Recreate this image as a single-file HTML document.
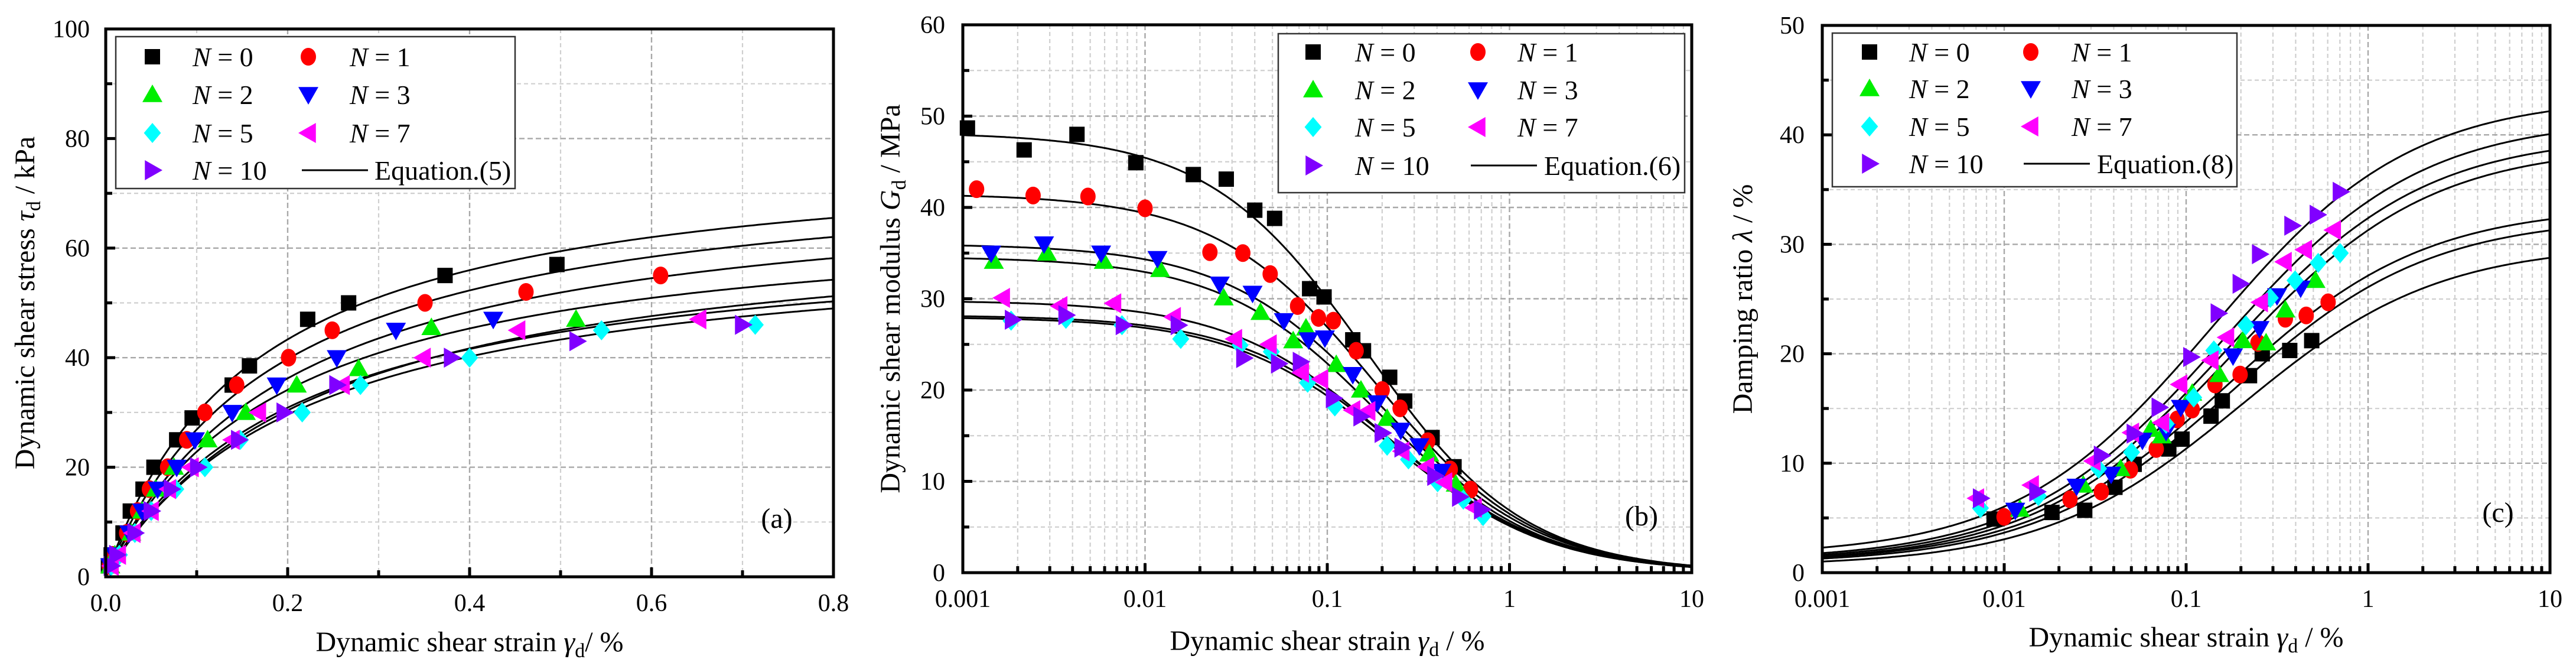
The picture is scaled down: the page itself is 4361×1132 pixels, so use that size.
<!DOCTYPE html>
<html><head><meta charset="utf-8">
<style>
html,body{margin:0;padding:0;background:#fff;}
svg{display:block;font-family:"Liberation Serif",serif;}
</style></head>
<body>
<svg id="fig" xmlns="http://www.w3.org/2000/svg" width="4361" height="1132" viewBox="0 0 4361 1132"></svg>
<script>
// ---------- Panel (a) data: dynamic shear stress vs strain ----------
const seriesNames = ["N = 0","N = 1","N = 2","N = 3","N = 5","N = 7","N = 10"];
const aTickX = [0.0,0.2,0.4,0.6,0.8];
const aTickLabelsX = ["0.0","0.2","0.4","0.6","0.8"];
const aTickY = [0,20,40,60,80,100];
const aStrain = [
 [0.003,0.006,0.019,0.027,0.041,0.053,0.078,0.095,0.139,0.158,0.222,0.267,0.373,0.496],
 [0.004,0.008,0.023,0.035,0.048,0.068,0.089,0.109,0.144,0.201,0.249,0.351,0.462,0.61],
 [0.005,0.01,0.028,0.04,0.055,0.075,0.112,0.154,0.21,0.278,0.358,0.517],
 [0.005,0.01,0.026,0.04,0.057,0.078,0.098,0.139,0.188,0.254,0.319,0.426],
 [0.006,0.015,0.032,0.05,0.077,0.109,0.148,0.216,0.28,0.4,0.545,0.714],
 [0.006,0.014,0.03,0.05,0.069,0.094,0.139,0.168,0.26,0.349,0.453,0.652],
 [0.006,0.012,0.032,0.05,0.072,0.101,0.146,0.196,0.254,0.38,0.518,0.7]
];
const aStress = [
 [2,4,8,12,16,20,25,29,35,38.5,47,50,55,57],
 [2,4,8,12,16,20,25,30,35,40,45,50,52,55],
 [2,4,8,12,16,20,25,30,35,38,45.5,47],
 [2,4,8,12,16,20,25,30,35,40,45,47],
 [2,4,8,12,16,20,25,30,35,40,45,46],
 [2,4,8,12,16,20,25,30,35,40,45,47],
 [2,4,8,12,16,20,25,30,35,40,43,46]
];
const aInitSlope = [480,415,345,360,280,300,280];   // kPa per %
const aUltStress = [79,76.3,67.5,72.9,62.7,63.6,66.4];

// ---------- Panel (b) data: dynamic shear modulus ----------
const bTickY = [0,10,20,30,40,50,60];
const logTicks = [0.001,0.01,0.1,1,10];
const logTickLabels = ["0.001","0.01","0.1","1","10"];
const bStrain = [
 [0.00106,0.00217,0.00423,0.0089,0.0184,0.0279,0.040,0.0514,0.080,0.096,0.138,0.158,0.22,0.266,0.376,0.496],
 [0.00119,0.00243,0.00486,0.01,0.0227,0.0344,0.0486,0.0687,0.0895,0.108,0.144,0.2,0.251,0.356,0.473,0.611],
 [0.00148,0.00289,0.00594,0.0121,0.027,0.043,0.065,0.0764,0.112,0.153,0.213,0.363,0.507],
 [0.00143,0.00279,0.00574,0.0117,0.0257,0.0389,0.0578,0.079,0.097,0.138,0.188,0.253,0.32,0.423],
 [0.00184,0.00368,0.00747,0.0157,0.0332,0.0493,0.078,0.110,0.213,0.279,0.403,0.558,0.716],
 [0.00165,0.00341,0.00673,0.0143,0.031,0.048,0.0721,0.092,0.138,0.167,0.257,0.351,0.441,0.641],
 [0.00187,0.00368,0.00759,0.0152,0.0348,0.054,0.0711,0.108,0.153,0.2,0.257,0.389,0.532,0.702]
];
const bModulus = [
 [48.7,46.3,48,44.9,43.6,43.1,39.7,38.8,31.1,30.2,25.5,24.3,21.4,18.8,14.8,11.6],
 [42,41.3,41.2,39.9,35.1,35,32.7,29.2,27.9,27.6,24.3,20,18,14.4,11.3,9.1],
 [34.1,35,34.1,33.2,30.1,28.5,25.4,26.8,22.8,20,16.9,13,9.7],
 [35,36,35,34.4,31.6,30.6,27.6,25.5,25.7,21.7,18.6,15.6,13.9,11.1],
 [27.6,27.8,27.1,25.6,24.9,24.2,20.8,18.2,13.9,12.4,9.9,8,6.2],
 [30.1,29.2,29.5,28,25.6,25,21.9,21.2,17.8,17.7,13.3,11.6,9.9,7.1],
 [27.7,28.2,27.1,27.1,23.5,22.9,23.1,19.1,17.1,15.3,13.7,10.6,8.3,6.9]
];
const bMaxModulus = [48.2,41.5,34.6,36,28,29.8,28.2];
const bRefStrain = [0.165,0.184,0.196,0.203,0.224,0.212,0.237];

// ---------- Panel (c) data: damping ratio ----------
const cTickY = [0,10,20,30,40,50];
const cStrain = [
 [0.0088,0.0183,0.0277,0.0406,0.0518,0.0803,0.0949,0.137,0.158,0.223,0.262,0.371,0.49],
 [0.00998,0.023,0.0342,0.0494,0.0685,0.0892,0.108,0.144,0.198,0.248,0.351,0.457,0.603],
 [0.0122,0.0272,0.0436,0.0639,0.0734,0.108,0.152,0.205,0.275,0.351,0.514],
 [0.0115,0.025,0.0387,0.0575,0.0776,0.0935,0.181,0.253,0.316,0.426],
 [0.0074,0.0154,0.033,0.0501,0.0776,0.11,0.142,0.213,0.29,0.397,0.532,0.703],
 [0.00705,0.0141,0.0308,0.0501,0.0734,0.0923,0.137,0.167,0.256,0.346,0.447,0.645],
 [0.0074,0.0151,0.0342,0.0518,0.071,0.106,0.15,0.198,0.253,0.381,0.525,0.703]
];
const cDamping = [
 [4.9,5.5,5.7,7.8,9.9,11.3,12.2,14.3,15.7,18,20,20.3,21.2],
 [5.1,6.7,7.4,9.4,11.3,14,14.9,17.2,18.1,21,23.2,23.5,24.7],
 [5.8,8,9.5,13.1,12.5,16.4,18.1,21.2,21,24,26.7],
 [5.7,7.9,9,12.1,12.9,15.1,19.8,22.3,25.3,26],
 [5.9,7,9.5,11,13.6,16,20.3,22.6,25.1,26.7,28.3,29.2],
 [6.8,8,10.2,12.8,13.7,17.2,19.4,21.5,24.7,28.4,29.5,31.3],
 [6.8,7.4,10.7,12.7,15.1,19.7,23.7,26.4,29.1,31.7,32.7,34.8]
];
const cMinDamping = [0.6,0.8,0.9,0.9,1.0,1.1,1.5];
const cMaxDamping = [30,32.5,33.5,39,40,41.5,43.5];
const cRefStrain = [0.2,0.18,0.17,0.18,0.17,0.16,0.14];

// ---------- rendering ----------
const NS = "http://www.w3.org/2000/svg";
const svg = document.getElementById("fig");
const colors = ["#000000","#ff0000","#00ee00","#0000ff","#00ffff","#ff00ff","#8000ff"];
const shapes = ["square","circle","up","down","diamond","left","right"];
function mk(tag, attrs, parent){
  const e = document.createElementNS(NS, tag);
  for (const k in attrs) e.setAttribute(k, attrs[k]);
  (parent||svg).appendChild(e);
  return e;
}
function marker(shape, cx, cy, color, parent){
  let e;
  const s = 13, t = 17;
  if (shape==="square") e = mk("rect",{x:cx-s,y:cy-s,width:2*s,height:2*s,fill:color},parent);
  else if (shape==="circle") e = mk("ellipse",{cx:cx,cy:cy,rx:13,ry:15,fill:color},parent);
  else {
    let p;
    if (shape==="up") p=[[cx,cy-t],[cx-t,cy+t*0.75],[cx+t,cy+t*0.75]];
    if (shape==="down") p=[[cx,cy+t],[cx-t,cy-t*0.75],[cx+t,cy-t*0.75]];
    if (shape==="left") p=[[cx-t,cy],[cx+t*0.75,cy-t],[cx+t*0.75,cy+t]];
    if (shape==="right") p=[[cx+t,cy],[cx-t*0.75,cy-t],[cx-t*0.75,cy+t]];
    if (shape==="diamond") p=[[cx,cy-t],[cx+t*0.85,cy],[cx,cy+t],[cx-t*0.85,cy]];
    e = mk("polygon",{points:p.map(q=>q.join(",")).join(" "),fill:color},parent);
  }
  return e;
}
function txt(str, x, y, size, anchor, parent){
  const e = mk("text",{x:x,y:y,"font-size":size,"text-anchor":anchor||"middle",fill:"#000"},parent);
  e.textContent = str;
  return e;
}

function panel(cfg){
  const g = mk("g",{});
  
  
  const L=cfg.L,R=cfg.R,T=cfg.T,B=cfg.B;
  const sx = cfg.log ? (v=>L+(Math.log10(v)-cfg.x0)/(cfg.x1-cfg.x0)*(R-L)) : (v=>L+(v-cfg.x0)/(cfg.x1-cfg.x0)*(R-L));
  const sy = v=>B-(v-cfg.y0)/(cfg.y1-cfg.y0)*(B-T);
  const clipId = cfg.name+"-clip";
  const defs = mk("defs",{},g);
  const cp = mk("clipPath",{id:clipId},defs);
  mk("rect",{x:L,y:T,width:R-L,height:B-T},cp);
  // grid
  const grid = mk("g",{},g);
  
  
  const xMajor=[], xMinor=[];
  if (cfg.log){
    for (let d=cfg.x0; d<cfg.x1; d++){
      for (let m=2;m<=9;m++) xMinor.push(m*Math.pow(10,d));
      xMajor.push(Math.pow(10,d));
    }
    xMajor.push(Math.pow(10,cfg.x1));
  } else {
    cfg.xTicks.forEach(v=>xMajor.push(v));
    for (let i=0;i<cfg.xTicks.length-1;i++) xMinor.push((cfg.xTicks[i]+cfg.xTicks[i+1])/2);
  }
  const yMinor=[];
  for (let i=0;i<cfg.yTicks.length-1;i++) yMinor.push((cfg.yTicks[i]+cfg.yTicks[i+1])/2);
  xMinor.forEach(v=>mk("line",{x1:sx(v),x2:sx(v),y1:T,y2:B,stroke:"#cfcfcf","stroke-width":2.2,"stroke-dasharray":"7 5"},grid));
  yMinor.forEach(v=>mk("line",{x1:L,x2:R,y1:sy(v),y2:sy(v),stroke:"#cfcfcf","stroke-width":2.2,"stroke-dasharray":"7 5"},grid));
  xMajor.forEach(v=>mk("line",{x1:sx(v),x2:sx(v),y1:T,y2:B,stroke:"#a8a8a8","stroke-width":2.4,"stroke-dasharray":"9 5"},grid));
  cfg.yTicks.forEach(v=>mk("line",{x1:L,x2:R,y1:sy(v),y2:sy(v),stroke:"#a8a8a8","stroke-width":2.4,"stroke-dasharray":"9 5"},grid));
  // curves
  const cg = mk("g",{"clip-path":"url(#"+clipId+")"},g);
  for (let i=0;i<7;i++){
    let d="";
    const n=300;
    for (let k=0;k<=n;k++){
      let x = cfg.log ? Math.pow(10,cfg.x0+(cfg.x1-cfg.x0)*k/n) : cfg.x0+(cfg.x1-cfg.x0)*k/n;
      const y = cfg.curve(i,x);
      d += (k?"L":"M")+sx(x).toFixed(1)+" "+sy(y).toFixed(1);
    }
    const c = mk("path",{d:d,fill:"none",stroke:"#000","stroke-width":3},cg);
    
    
  }
  // points
  for (let i=0;i<7;i++){
    const sg = mk("g",{},g);
    
    
    cfg.xs[i].forEach((x,j)=>{
      const m = marker(shapes[i], sx(x), sy(cfg.ys[i][j]), colors[i], sg);
      
      
    });
  }
  // frame
  const fr = mk("rect",{x:L,y:T,width:R-L,height:B-T,fill:"none",stroke:"#000","stroke-width":5},g);
  
  
  // ticks
  const tk = mk("g",{stroke:"#000","stroke-width":5},g);
  
  
  xMajor.forEach(v=>mk("line",{x1:sx(v),x2:sx(v),y1:B,y2:B-16},tk));
  xMinor.forEach(v=>mk("line",{x1:sx(v),x2:sx(v),y1:B,y2:B-11},tk));
  cfg.yTicks.forEach(v=>mk("line",{x1:L,x2:L+16,y1:sy(v),y2:sy(v)},tk));
  yMinor.forEach(v=>mk("line",{x1:L,x2:L+11,y1:sy(v),y2:sy(v)},tk));
  // tick labels
  const xl = mk("g",{},g);
  
  
  cfg.xTicks.forEach((v,i)=>txt(cfg.xLabels[i], sx(v), B+58, 42, "middle", xl));
  const yl = mk("g",{},g);
  
  
  cfg.yTicks.forEach(v=>txt(String(v), cfg.yLabX, sy(v)+14, 42, "end", yl));
  // axis titles
  const xt = mk("text",{x:(L+R)/2,y:cfg.xTitleY,"font-size":48,"text-anchor":"middle"},g);
  
  
  xt.innerHTML = cfg.xTitle;
  const yt = mk("text",{x:0,y:0,"font-size":48,"text-anchor":"middle",transform:"translate("+cfg.yTitleX+","+((T+B)/2)+") rotate(-90)"},g);
  
  
  yt.innerHTML = cfg.yTitle;
  // panel label
  const pl = txt(cfg.tag, cfg.tagX, cfg.tagY, 48, "middle", g);
  
  
  // legend
  const lg = mk("g",{},g);
  
  
  const Lb = cfg.leg;
  mk("rect",{x:Lb.x,y:Lb.y,width:Lb.w,height:Lb.h,fill:"#fff",stroke:"#333","stroke-width":2.5},lg);
  for (let i=0;i<8;i++){
    const col = i%2, row = Math.floor(i/2);
    const ry = Lb.rows[row];
    const e = mk("g",{},lg);
    
    
    if (i<7){
      marker(shapes[i], col?Lb.m2:Lb.m1, ry, colors[i], e);
      const t = mk("text",{x:col?Lb.t2:Lb.t1,y:ry+16,"font-size":46},e);
      t.innerHTML = '<tspan font-style="italic">N</tspan> = '+seriesNames[i].replace(/\D/g,'');
    } else {
      mk("line",{x1:Lb.e1,x2:Lb.e2,y1:ry,y2:ry,stroke:"#000","stroke-width":3},e);
      const t = mk("text",{x:Lb.et,y:ry+16,"font-size":46},e);
      t.textContent = cfg.eq;
    }
  }
}

panel({name:"panel-a-shear-stress", L:179,R:1411,T:49,B:976, log:false, x0:0,x1:0.8,y0:0,y1:100,
  xTicks:aTickX, xLabels:aTickLabelsX, yTicks:aTickY, yLabX:152,
  xs:aStrain, ys:aStress,
  curve:(i,x)=>x/(1/aInitSlope[i]+x/aUltStress[i]),
  xTitle:'Dynamic shear strain <tspan font-style="italic">γ</tspan><tspan font-size="34" dy="10">d</tspan><tspan dy="-10">/ %</tspan>', xTitleY:1102,
  yTitle:'Dynamic shear stress <tspan font-style="italic">τ</tspan><tspan font-size="34" dy="10">d</tspan><tspan dy="-10"> / kPa</tspan>', yTitleX:58,
  tag:"(a)", tagX:1315, tagY:893, eq:"Equation.(5)",
  leg:{x:196,y:62,w:676,h:257,rows:[96,160,225,288],m1:258,t1:326,m2:522,t2:592,e1:511,e2:623,et:634}
});
panel({name:"panel-b-shear-modulus", L:1630,R:2864,T:42,B:969, log:true, x0:-3,x1:1,y0:0,y1:60,
  xTicks:logTicks, xLabels:logTickLabels, yTicks:bTickY, yLabX:1600,
  xs:bStrain, ys:bModulus,
  curve:(i,x)=>bMaxModulus[i]/(1+x/bRefStrain[i]),
  xTitle:'Dynamic shear strain <tspan font-style="italic">γ</tspan><tspan font-size="34" dy="10">d</tspan><tspan dy="-10"> / %</tspan>', xTitleY:1100,
  yTitle:'Dynamic shear modulus <tspan font-style="italic">G</tspan><tspan font-size="34" dy="10">d</tspan><tspan dy="-10"> / MPa</tspan>', yTitleX:1523,
  tag:"(b)", tagX:2779, tagY:889, eq:"Equation.(6)",
  leg:{x:2164,y:57,w:688,h:269,rows:[88,152,215,280],m1:2223,t1:2294,m2:2502,t2:2569,e1:2490,e2:2602,et:2614}
});
panel({name:"panel-c-damping-ratio", L:3085,R:4317,T:43,B:969, log:true, x0:-3,x1:1,y0:0,y1:50,
  xTicks:logTicks, xLabels:logTickLabels, yTicks:cTickY, yLabX:3055,
  xs:cStrain, ys:cDamping,
  curve:(i,x)=>{const r=Math.pow(x/cRefStrain[i],0.8); return cMinDamping[i]+(cMaxDamping[i]-cMinDamping[i])*r/(1+r);},
  xTitle:'Dynamic shear strain <tspan font-style="italic">γ</tspan><tspan font-size="34" dy="10">d</tspan><tspan dy="-10"> / %</tspan>', xTitleY:1094,
  yTitle:'Damping ratio <tspan font-style="italic">λ</tspan> / %', yTitleX:2966,
  tag:"(c)", tagX:4229, tagY:883, eq:"Equation.(8)",
  leg:{x:3102,y:56,w:685,h:260,rows:[88,150,214,277],m1:3165,t1:3232,m2:3438,t2:3507,e1:3426,e2:3538,et:3550}
});
</script>
</body></html>
